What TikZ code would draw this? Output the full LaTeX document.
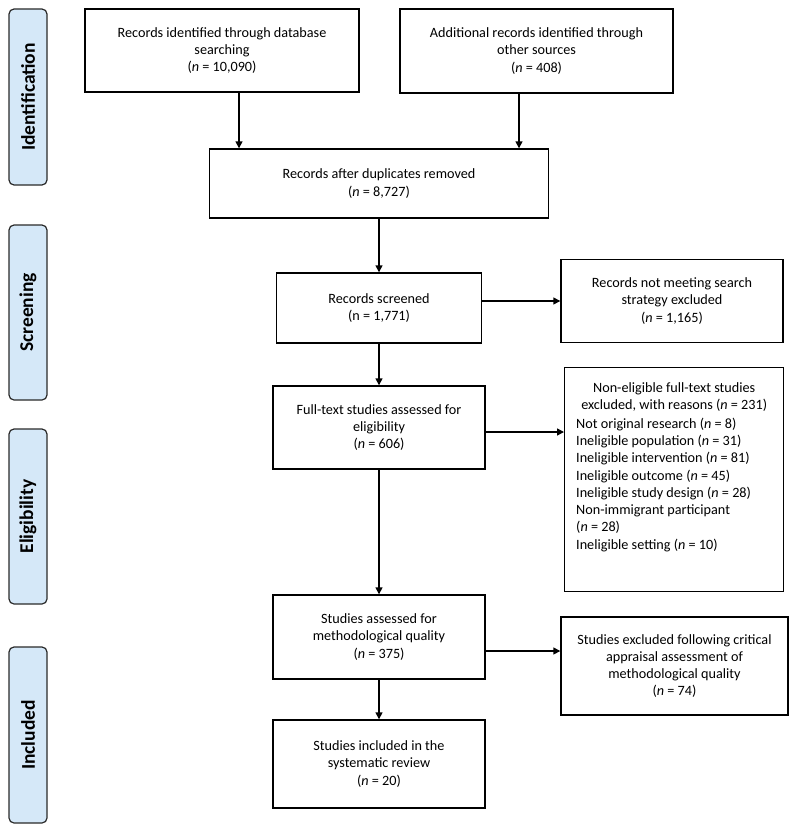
\documentclass[tikz,border=0pt]{standalone}
\usepackage{fontspec}
\setmainfont{Carlito}
\usetikzlibrary{arrows.meta}
\definecolor{labfill}{HTML}{D5E8F8}
\definecolor{labdraw}{HTML}{2A2A2A}
\begin{document}
\begin{tikzpicture}[x=1pt,y=-1pt,
  box/.style={draw=black,line width=1.4pt,inner sep=0pt,align=center,font=\fontsize{14.2}{17.3}\selectfont},
  lab/.style={draw=labdraw,fill=labfill,line width=1.2pt,rounded corners=5pt,inner sep=0pt,
     minimum height=38pt,rotate=90,font=\fontsize{19.5}{22}\selectfont\bfseries},
  arr/.style={line width=1.4pt,-{Triangle[length=7pt,width=7pt]}}]
\useasboundingbox (0,0) rectangle (797,832);
% stage labels
\node[lab,minimum width=176pt] (l1) at (28,97) {Identification};
\node[lab,minimum width=175pt] (l2) at (28,312.5) {Screening};
\node[lab,minimum width=175pt] (l3) at (28,516.5) {Eligibility};
\node[lab,minimum width=176pt] (l4) at (28,735) {Included};
% main boxes
\node[box,minimum width=274pt,minimum height=83pt] (b1) at (222,50.5)
  {Records identified through database\\searching\\(\textit{n} = 10,090)};
\node[box,minimum width=273pt,minimum height=84pt] (b2) at (536.5,51)
  {Additional records identified through\\other sources\\(\textit{n} = 408)};
\node[box,minimum width=339pt,minimum height=69pt] (b3) at (379,183.5)
  {Records after duplicates removed\\(\textit{n} = 8,727)};
\node[box,minimum width=205pt,minimum height=70pt] (b4) at (379,308)
  {Records screened\\(n = 1,771)};
\node[box,minimum width=212pt,minimum height=83pt] (b5) at (379,427.5)
  {Full-text studies assessed for\\eligibility\\(\textit{n} = 606)};
\node[box,minimum width=212pt,minimum height=84pt] (b6) at (379,637)
  {Studies assessed for\\methodological quality\\(\textit{n} = 375)};
\node[box,minimum width=212pt,minimum height=88pt] (b7) at (379,764)
  {Studies included in the\\systematic review\\(\textit{n} = 20)};
% right boxes
\node[box,minimum width=222pt,minimum height=83pt] (r1) at (672,301)
  {Records not meeting search\\strategy excluded\\(\textit{n} = 1,165)};
\node[box,minimum width=219pt,minimum height=224pt,anchor=north west] (r2) at (564,367)
  {\begin{minipage}[t][216pt][t]{210pt}\fontsize{14.2}{17.3}\selectfont
   \vspace{11pt}
   {\centering Non-eligible full-text studies\\excluded, with reasons (\textit{n} = 231)\par}
   \vspace{1pt}
   \raggedright\leftskip=7pt
   Not original research (\textit{n} = 8)\\
   Ineligible population (\textit{n} = 31)\\
   Ineligible intervention (\textit{n} = 81)\\
   Ineligible outcome (\textit{n} = 45)\\
   Ineligible study design (\textit{n} = 28)\\
   Non-immigrant participant\\
   (\textit{n} = 28)\\
   Ineligible setting (\textit{n} = 10)\par
   \end{minipage}};
\node[box,minimum width=227pt,minimum height=98pt] (r3) at (674.5,666)
  {Studies excluded following critical\\appraisal assessment of\\methodological quality\\(\textit{n} = 74)};
% connectors
\draw[arr] ([xshift=17pt]b1.south) -- ([xshift=17pt]b1.south |- b3.north);
\draw[arr] ([xshift=-17.5pt]b2.south) -- ([xshift=-17.5pt]b2.south |- b3.north);
\draw[arr] (b3.south) -- (b4.north);
\draw[arr] (b4.south) -- (b5.north);
\draw[arr] (b4.east |- r1.west) -- (r1.west);
\draw[arr] ([yshift=-4.5pt]b5.east) -- ([yshift=-4.5pt]b5.east -| r2.west);
\draw[arr] (b5.south) -- (b6.north);
\draw[arr] ([yshift=-14pt]b6.east) -- ([yshift=-14pt]b6.east -| r3.west);
\draw[arr] (b6.south) -- (b7.north);
\end{tikzpicture}
\end{document}
